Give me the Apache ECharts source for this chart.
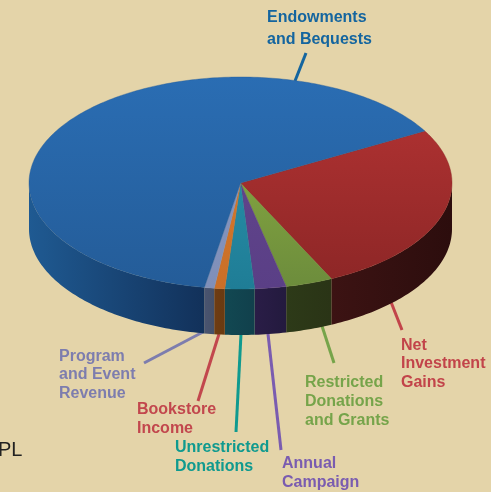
<!DOCTYPE html>
<html>
<head>
<meta charset="utf-8">
<style>
html, body { margin: 0; padding: 0; background: #e4d4a9; overflow: hidden; }
#pie { width: 491px; height: 492px; }
</style>
<script src="https://cdn.jsdelivr.net/npm/echarts@6/dist/echarts.min.js"></script>
</head>
<body>
<div id="pie"></div>
<script>
// percent shares, clockwise from the blue/red edge
var categories = ['Net Investment Gains', 'Restricted Donations and Grants', 'Annual Campaign',
    'Unrestricted Donations', 'Bookstore Income', 'Program and Event Revenue', 'Endowments and Bequests'];
var shares = [26.1, 3.6, 2.4, 2.25, 0.8, 0.75, 64.1];

// face colours, top then bottom of the disc
var faceTop = ['#b63434', '#93b543', '#66488f', '#2c98b2', '#dc7d2c', '#8a9ac6', '#2a6db3'];
var faceBottom = ['#8c2626', '#6c8c3c', '#5a3f86', '#1f7d96', '#c96f28', '#7f8fb8', '#245c98'];
// wall colours, left then right
var wallLeft = ['#3c1313', '#2d3a18', '#2a1d47', '#124852', '#6e3c12', '#4a5470', '#1f5a92'];
var wallRight = ['#2c0d0d', '#2a3416', '#231a3e', '#11404c', '#6a3a10', '#445068', '#12315a'];

var cx = 240.5, cy = 183, rx = 211.5, ry = 106, depth = 46, startAngle = 29.4;

var total = shares.reduce(function (a, b) { return a + b; }, 0);
var edges = [0];
shares.forEach(function (v, i) { edges.push(edges[i] + v); });
function toAngle(v) {
    return echarts.number.linearMap(v, [0, total], [startAngle, startAngle - 360]);
}
function rimPoint(deg, dy) {
    var a = deg * Math.PI / 180;
    return [cx + rx * Math.cos(a), cy - ry * Math.sin(a) + (dy || 0)];
}
function rimArc(a0, a1, dy) {
    var pts = [];
    var n = Math.max(2, Math.ceil(Math.abs(a1 - a0)));
    for (var i = 0; i <= n; i++) {
        pts.push(rimPoint(a0 + (a1 - a0) * i / n, dy));
    }
    return pts;
}

function renderTop(params, api) {
    var i = params.dataIndex;
    var pts = [[cx, cy]].concat(rimArc(toAngle(edges[i]), toAngle(edges[i + 1])));
    return {
        type: 'polygon',
        shape: { points: pts },
        style: {
            fill: new echarts.graphic.LinearGradient(0, cy - ry, 0, cy + ry, [
                { offset: 0, color: faceTop[i] },
                { offset: 1, color: faceBottom[i] }
            ], true),
            stroke: faceBottom[i],
            lineWidth: 0.4
        }
    };
}

function renderWall(params, api) {
    var i = params.dataIndex;
    // only the front half of the rim shows
    var a0 = Math.min(toAngle(edges[i]), 0);
    var a1 = Math.max(toAngle(edges[i + 1]), -180);
    if (a1 >= a0) {
        return null;
    }
    var top = rimArc(a0, a1, 0);
    var bottom = rimArc(a1, a0, depth);
    var xs = top.map(function (p) { return p[0]; });
    return {
        type: 'polygon',
        shape: { points: top.concat(bottom) },
        style: {
            fill: new echarts.graphic.LinearGradient(Math.min.apply(null, xs), 0, Math.max.apply(null, xs), 0, [
                { offset: 0, color: wallLeft[i] },
                { offset: 1, color: wallRight[i] }
            ], true)
        }
    };
}

function leader(x1, y1, x2, y2, color) {
    return { type: 'line', z: 1, shape: { x1: x1, y1: y1, x2: x2, y2: y2 }, style: { stroke: color, lineWidth: 3 } };
}
function label(x, y, text, color, lineHeight) {
    return {
        type: 'text', z: 5, x: x, y: y,
        style: { text: text, fill: color, font: 'bold 16px "Liberation Sans", Arial, sans-serif', lineHeight: lineHeight, textVerticalAlign: 'top' }
    };
}

var chart = echarts.init(document.getElementById('pie'));
chart.setOption({
    backgroundColor: '#e4d4a9',
    animation: false,
    series: [
        { type: 'custom', coordinateSystem: 'none', z: 2, renderItem: renderWall, data: shares, silent: true },
        { type: 'custom', coordinateSystem: 'none', z: 3, renderItem: renderTop, data: shares, silent: true }
    ],
    graphic: [
        leader(306, 53, 295, 81, '#14659f'),
        leader(144, 363, 203, 332, '#7d7dae'),
        leader(198, 401, 219, 334, '#c2474d'),
        leader(236, 432, 241, 334, '#0f9a8f'),
        leader(281, 450, 268, 334, '#7a5cb0'),
        leader(334, 363, 322, 326, '#76a44a'),
        leader(402, 330, 391, 302, '#c2444a'),
        label(267, 7, 'Endowments\nand Bequests', '#14659f', 22),
        label(59, 347, 'Program\nand Event\nRevenue', '#7d7dae', 18.5),
        label(137, 400, 'Bookstore\nIncome', '#c2474d', 19),
        label(175, 438, 'Unrestricted\nDonations', '#0f9a8f', 19),
        label(282, 454, 'Annual\nCampaign', '#7a5cb0', 19),
        label(305, 373, 'Restricted\nDonations\nand Grants', '#76a44a', 19),
        label(401, 336, 'Net\nInvestment\nGains', '#c2444a', 18.5),
        { type: 'text', z: 5, x: -2, y: 440, style: { text: 'PL', fill: '#222222', font: '20px "Liberation Sans", Arial, sans-serif' } }
    ]
});
</script>
</body>
</html>
